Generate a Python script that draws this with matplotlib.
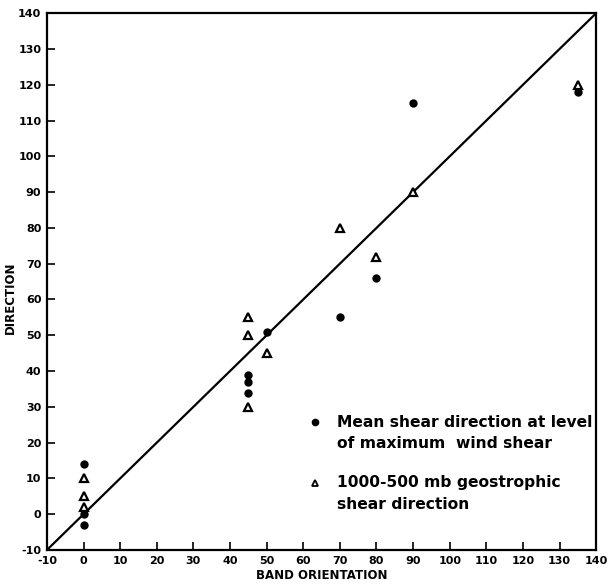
import matplotlib.pyplot as plt
from matplotlib.lines import Line2D

# band orientation vs shear direction (degrees)
orient_dot = [0, 0, 0, 45, 45, 45, 50, 70, 80, 90, 135]
shear_dot = [14, 0, -3, 39, 37, 34, 51, 55, 66, 115, 118]

orient_tri = [0, 0, 0, 45, 45, 45, 50, 70, 80, 90, 135]
geo_tri = [10, 5, 2, 55, 50, 30, 45, 80, 72, 90, 120]

ticks = list(range(-10, 141, 10))
tick_labels = ['-10', '0', '10', '20', '30', '40', '50', '60', '70', '80',
               '90', '100', '110', '120', '130', '140']

plt.rcParams['font.family'] = ['DejaVu Sans']
fig = plt.figure(figsize=(6.09, 5.88), dpi=100)
ax = fig.add_axes([0.077, 0.0646, 0.902, 0.913])

# linha 1:1
ax.plot([-10, 140], [-10, 140], color='black', lw=1.6)

ax.plot(orient_dot, shear_dot, 'o', color='black', markersize=5, zorder=3)
ax.plot(orient_tri, geo_tri, '^', markerfacecolor='white', markeredgecolor='black',
        markersize=5.5, markeredgewidth=1.6, zorder=3)

ax.set_xlim(-10, 140)
ax.set_ylim(-10, 140)
ax.set_xticks(ticks)
ax.set_yticks(ticks)
ax.set_xticklabels(tick_labels, fontsize=8, fontweight='bold')
ax.set_yticklabels(tick_labels, fontsize=8, fontweight='bold')
ax.tick_params(direction='in', length=6, width=1.2, pad=4)
for s in ax.spines.values():
    s.set_linewidth(1.6)

ax.set_xlabel('BAND ORIENTATION', fontsize=8.5, fontweight='bold')
ax.set_ylabel('DIRECTION', fontsize=8.5, fontweight='bold')
ax.xaxis.set_label_coords(0.5, -0.036)
ax.yaxis.set_label_coords(-0.054, 0.47)

# legenda manual
leg_kw = dict(fontsize=11.2, fontweight='bold', transform=ax.transAxes, va='center', ha='left')
ax.add_line(Line2D([0.488], [0.238], marker='o', color='black', markersize=4.5,
                   transform=ax.transAxes))
ax.text(0.528, 0.238, 'Mean shear direction at level', **leg_kw)
ax.text(0.528, 0.199, 'of maximum  wind shear', **leg_kw)
ax.add_line(Line2D([0.488], [0.125], marker='^', markerfacecolor='white',
                   markeredgecolor='black', markersize=4.5, markeredgewidth=1.3,
                   transform=ax.transAxes))
ax.text(0.528, 0.125, '1000-500 mb geostrophic', **leg_kw)
ax.text(0.528, 0.084, 'shear direction', **leg_kw)

plt.savefig('out.png', dpi=100)
